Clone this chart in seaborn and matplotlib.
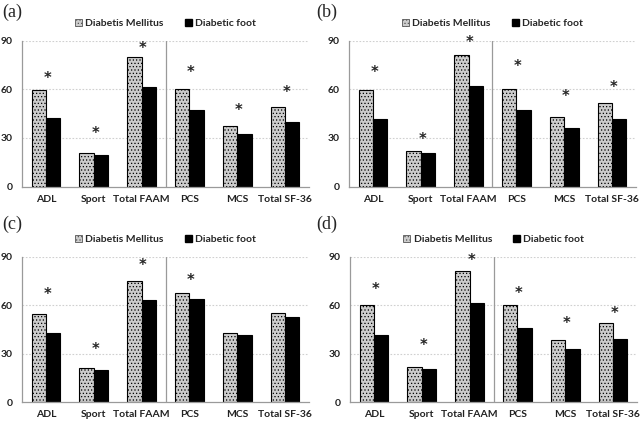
import pandas as pd
import matplotlib
matplotlib.use("Agg")
import matplotlib.pyplot as plt
import seaborn as sns
from matplotlib.patches import Patch

# Categorías y grupos
categories = ['ADL', 'Sport', 'Total FAAM', 'PCS', 'MCS', 'Total SF-36']
groups = ['Diabetis Mellitus', 'Diabetic foot']
panels = ['(a)', '(b)', '(c)', '(d)']

# Valores (Diabetis Mellitus / Diabetic foot)
dm_a = [59.6, 21.0, 80.1, 60.6, 37.4, 48.9]
df_a = [42.1, 19.5, 61.4, 47.5, 32.7, 40.1]
dm_b = [59.6, 22.2, 81.4, 60.6, 42.7, 51.6]
df_b = [41.7, 20.8, 62.1, 47.5, 36.4, 41.9]
dm_c = [54.4, 21.0, 75.0, 67.8, 42.5, 55.3]
df_c = [42.9, 19.7, 62.9, 64.1, 41.3, 52.6]
dm_d = [60.0, 21.4, 81.0, 59.8, 38.4, 49.1]
df_d = [41.5, 20.3, 61.6, 45.6, 32.9, 39.0]

# Altura de los asteriscos (None = sin asterisco)
star_a = [66.8, 32.5, 85.3, 70.3, 46.8, 57.9]
star_b = [70.5, 29.2, 88.8, 74.0, 55.5, 61.2]
star_c = [66.6, 32.3, 84.7, 75.4, None, None]
star_d = [69.9, 35.3, 87.7, 67.2, 48.7, 54.9]

sns.set_style("white")
plt.rcParams['font.family'] = ['Lato', 'DejaVu Sans']
plt.rcParams['hatch.color'] = '#6a6a6a'
plt.rcParams['hatch.linewidth'] = 0.5

fig = plt.figure(figsize=(6.4, 4.23), dpi=100)
rects = [
    [0.0344, 0.5591, 0.4484, 0.3440],
    [0.5453, 0.5591, 0.4484, 0.3440],
    [0.0344, 0.0496, 0.4484, 0.3435],
    [0.5470, 0.0496, 0.4484, 0.3435],
]
label_pos = [(0.003, 0.972), (0.494, 0.972), (0.003, 0.470), (0.494, 0.470)]
data_sets = [(dm_a, df_a, star_a), (dm_b, df_b, star_b),
             (dm_c, df_c, star_c), (dm_d, df_d, star_d)]

axis_gray = '#9a9a9a'

for rect, (dm, dfoot, stars), label, (lx, ly) in zip(rects, data_sets, panels, label_pos):
    ax = fig.add_axes(rect)
    d = pd.DataFrame({
        'Categoria': categories * 2,
        'Grupo': [groups[0]] * 6 + [groups[1]] * 6,
        'Valor': dm + dfoot,
    })
    sns.barplot(data=d, x='Categoria', y='Valor', hue='Grupo', order=categories,
                hue_order=groups, palette=['#cccccc', 'black'], width=0.6,
                edgecolor='black', linewidth=0.8, ax=ax, legend=False)
    for p in ax.containers[0].patches:
        p.set_hatch('.....')

    ax.set_xlim(-0.5, 5.5)
    ax.set_ylim(0, 90)
    ax.set_yticks([0, 30, 60, 90])
    ax.set_xlabel('')
    ax.set_ylabel('')
    for y in [30, 60, 90]:
        ax.axhline(y, color='#d0d0d0', linestyle=(0, (1.5, 1.5)), linewidth=0.8, zorder=0)
    ax.axvline(2.5, color=axis_gray, linewidth=0.9, ymax=1.0)

    for s in ['top', 'right']:
        ax.spines[s].set_visible(False)
    for s in ['left', 'bottom']:
        ax.spines[s].set_color(axis_gray)
        ax.spines[s].set_linewidth(0.9)

    ax.tick_params(axis='x', length=0, labelsize=7.5, pad=6)
    ax.set_xticks([0.5, 1.5, 2.5, 3.5, 4.5], minor=True)
    ax.tick_params(axis='x', which='minor', length=3, color=axis_gray, width=0.8)
    ax.tick_params(axis='y', length=3, color=axis_gray, width=0.8, labelsize=7.5, pad=4)
    for t in ax.get_xticklabels() + ax.get_yticklabels():
        t.set_fontweight('bold')
        t.set_color('#222222')

    for i, sy in enumerate(stars):
        if sy is not None:
            ax.text(i + 0.03, sy, '*', ha='center', va='center',
                    fontsize=10.5, fontweight='bold', family='DejaVu Sans')

    handles = [Patch(facecolor='#cccccc', edgecolor='#555555', hatch='.....', linewidth=0.6),
               Patch(facecolor='black', edgecolor='black')]
    leg = ax.legend(handles, groups, loc='lower center', bbox_to_anchor=(0.5, 1.06),
                    ncol=2, frameon=False, fontsize=7.5, handlelength=0.7,
                    handleheight=0.7, handletextpad=0.3, columnspacing=2.0,
                    borderaxespad=0)
    for t in leg.get_texts():
        t.set_fontweight('bold')

    fig.text(lx, ly, label, ha='left', va='center',
             fontsize=13, family='Liberation Serif')

fig.savefig('out.png', dpi=100)
